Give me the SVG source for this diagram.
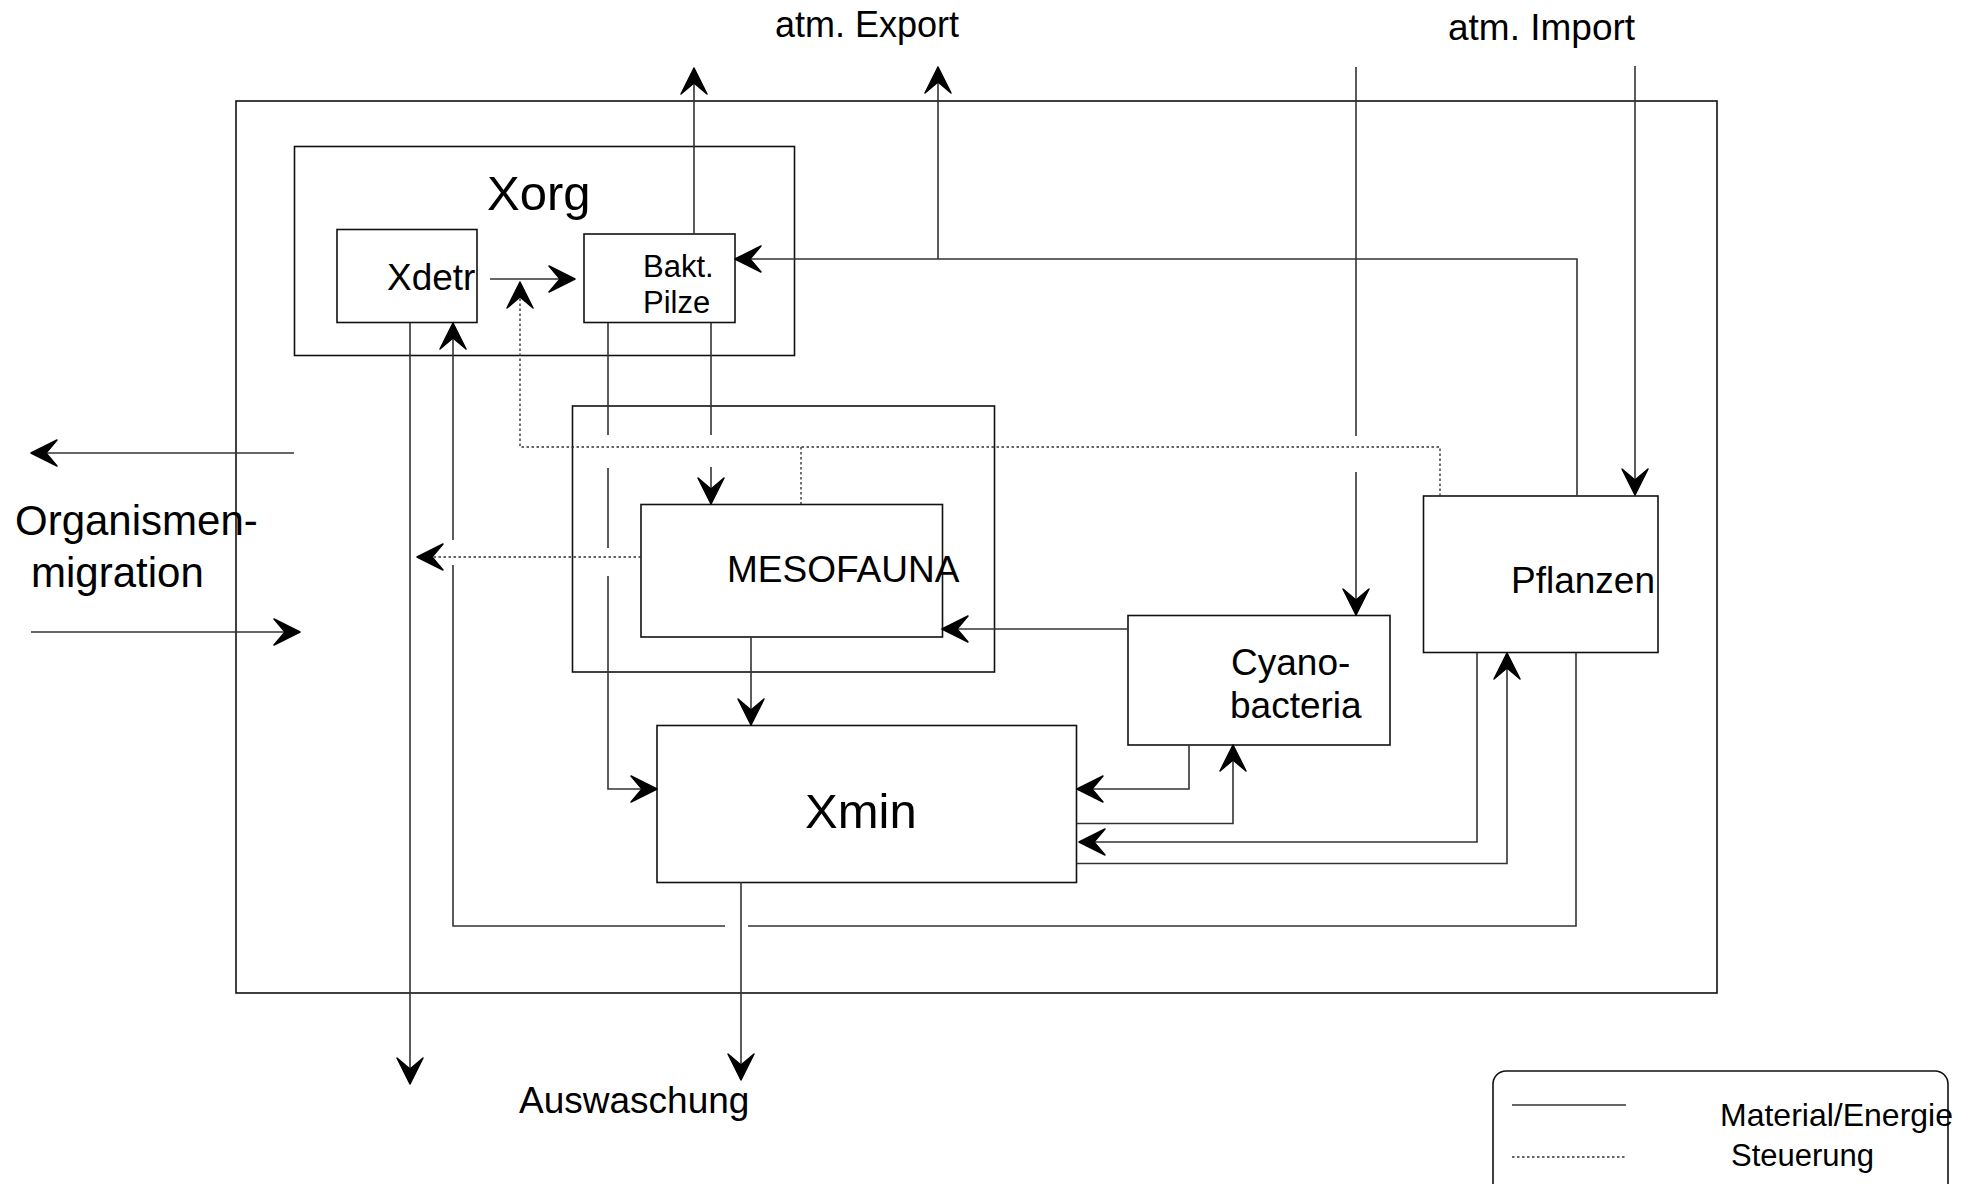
<svg xmlns="http://www.w3.org/2000/svg" width="1977" height="1184" viewBox="0 0 1977 1184">
<style>
.box{fill:none;stroke:#111;stroke-width:1.6}
.ln{fill:none;stroke:#333;stroke-width:1.6}
.dot{fill:none;stroke:#333;stroke-width:1.4;stroke-dasharray:2.5 2.5}
.t{font-family:"Liberation Sans",Arial,sans-serif;fill:#000}
</style>
<defs>
<marker id="ah" viewBox="-30 -16 32 32" refX="0" refY="0" markerWidth="32" markerHeight="32" markerUnits="userSpaceOnUse" orient="auto">
<path d="M0,0 L-26,-13 L-15,0 L-26,13 Z" fill="#000" stroke="#000" stroke-width="1.5" stroke-linejoin="round"/>
</marker>
</defs>
<rect x="0" y="0" width="1977" height="1184" fill="#fff"/>

<g id="system"><rect class="box" x="236" y="101" width="1481" height="892"/></g>

<g id="xorg">
<rect class="box" x="294.5" y="146.5" width="500" height="209"/>
<text class="t" x="487" y="210" font-size="49">Xorg</text>
</g>
<g id="xdetr">
<rect class="box" x="337" y="229.5" width="140" height="93"/>
<text class="t" x="387" y="290" font-size="37">Xdetr</text>
</g>
<g id="bakt">
<rect class="box" x="584" y="234" width="151" height="88.5"/>
<text class="t" x="643" y="277" font-size="31">Bakt.</text>
<text class="t" x="643" y="313" font-size="31">Pilze</text>
</g>
<g id="mesofauna-zone"><rect class="box" x="572.5" y="406" width="422" height="266"/></g>
<g id="mesofauna">
<rect class="box" x="641" y="504.5" width="301.5" height="132.5"/>
<text class="t" x="727" y="582" font-size="37">MESOFAUNA</text>
</g>
<g id="cyano">
<rect class="box" x="1128" y="615.5" width="262" height="129.5"/>
<text class="t" x="1231" y="675" font-size="37">Cyano-</text>
<text class="t" x="1230" y="718" font-size="37">bacteria</text>
</g>
<g id="pflanzen">
<rect class="box" x="1423.5" y="496" width="234.5" height="156.5"/>
<text class="t" x="1511" y="593" font-size="37">Pflanzen</text>
</g>
<g id="xmin">
<rect class="box" x="657" y="725.5" width="419.5" height="157"/>
<text class="t" x="805" y="828" font-size="49">Xmin</text>
</g>

<g id="labels">
<text class="t" x="775" y="37" font-size="36">atm. Export</text>
<text class="t" x="1448" y="40" font-size="37">atm. Import</text>
<text class="t" x="15" y="535" font-size="42">Organismen-</text>
<text class="t" x="31" y="587" font-size="42">migration</text>
<text class="t" x="519" y="1113" font-size="37">Auswaschung</text>
</g>

<g id="connectors">
<path class="ln" d="M490,279 L575,279" marker-end="url(#ah)"/>
<path class="dot" d="M1440,496 L1440,447 L520,447 L520,282" marker-end="url(#ah)"/>
<path class="dot" d="M801,447 L801,504"/>
<path class="dot" d="M641,557 L417,557" marker-end="url(#ah)"/>
<path class="ln" d="M694,234 L694,68" marker-end="url(#ah)"/>
<path class="ln" d="M1577,496 L1577,259 L735,259" marker-end="url(#ah)"/>
<path class="ln" d="M938,259 L938,67" marker-end="url(#ah)"/>
<path class="ln" d="M1356,67 L1356,436"/>
<path class="ln" d="M1356,472 L1356,615" marker-end="url(#ah)"/>
<path class="ln" d="M1635,66 L1635,495" marker-end="url(#ah)"/>
<path class="ln" d="M608,323 L608,435 M608,468 L608,548"/>
<path class="ln" d="M608,576 L608,789 L657,789" marker-end="url(#ah)"/>
<path class="ln" d="M711,323 L711,435"/>
<path class="ln" d="M711,467 L711,504" marker-end="url(#ah)"/>
<path class="ln" d="M751,637 L751,725" marker-end="url(#ah)"/>
<path class="ln" d="M1128,629 L942,629" marker-end="url(#ah)"/>
<path class="ln" d="M1189,745 L1189,789 L1077,789" marker-end="url(#ah)"/>
<path class="ln" d="M1077,823.5 L1233,823.5 L1233,745" marker-end="url(#ah)"/>
<path class="ln" d="M1477,653 L1477,842 L1079,842" marker-end="url(#ah)"/>
<path class="ln" d="M1077,863.5 L1507,863.5 L1507,653" marker-end="url(#ah)"/>
<path class="ln" d="M1576,653 L1576,926 L748,926 M725,926 L453,926 L453,565"/>
<path class="ln" d="M453,540 L453,323" marker-end="url(#ah)"/>
<path class="ln" d="M410,323 L410,1084" marker-end="url(#ah)"/>
<path class="ln" d="M741,882 L741,1080" marker-end="url(#ah)"/>
<path class="ln" d="M294,453 L31,453" marker-end="url(#ah)"/>
<path class="ln" d="M31,632 L300,632" marker-end="url(#ah)"/>
</g>

<g id="legend">
<rect class="box" x="1493" y="1071" width="455" height="125" rx="13" ry="13"/>
<path class="ln" d="M1512,1105 L1626,1105"/>
<path class="dot" d="M1512,1157 L1627,1157"/>
<text class="t" x="1720" y="1126" font-size="32">Material/Energie</text>
<text class="t" x="1731" y="1166" font-size="31">Steuerung</text>
</g>
</svg>
